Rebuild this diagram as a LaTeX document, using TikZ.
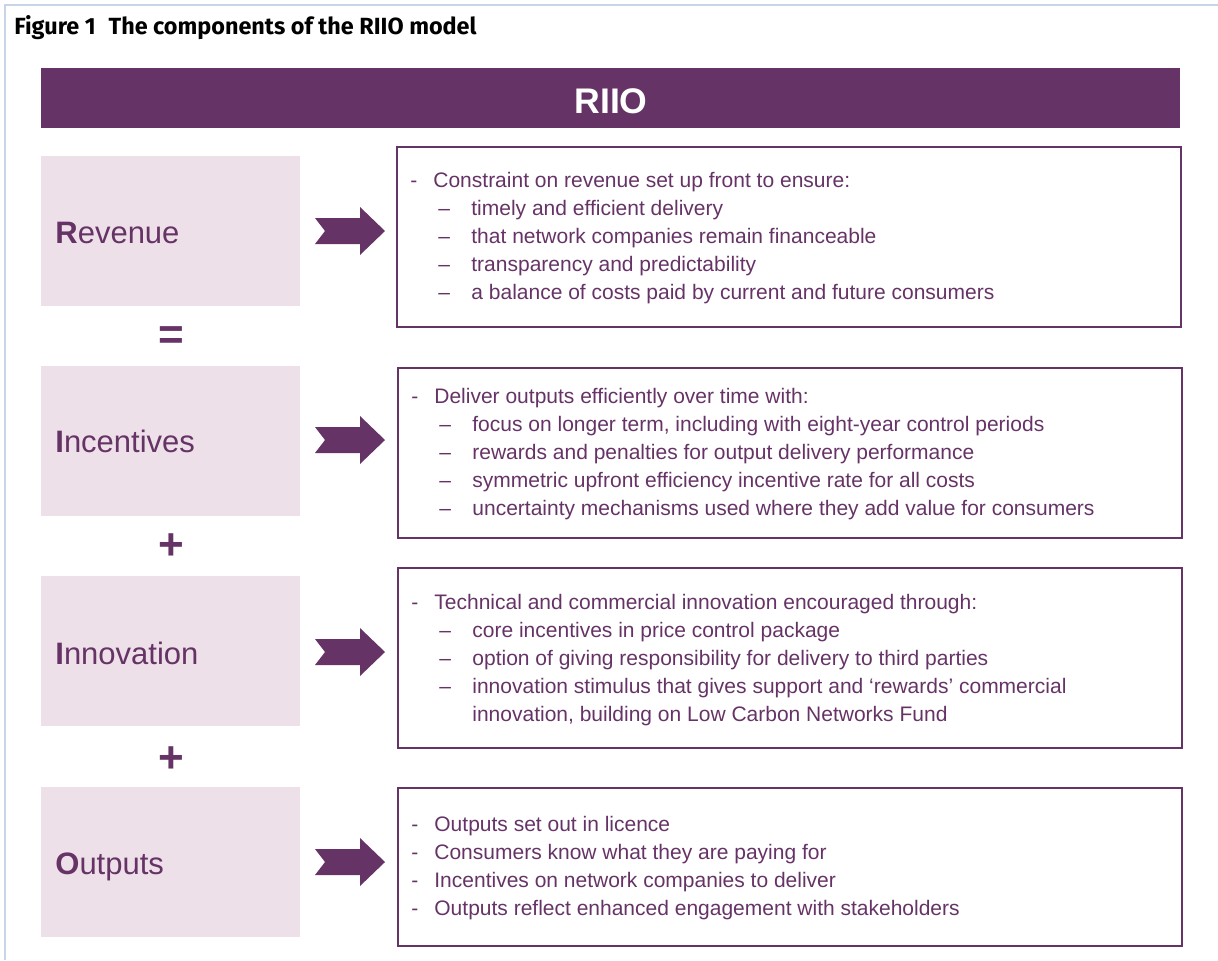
\documentclass[tikz,border=0pt]{standalone}
\usepackage{fontspec}
\setmainfont{Liberation Sans}
\newfontfamily\titlefont{Fira Sans}
\definecolor{riio}{RGB}{102,51,102}
\definecolor{riiopink}{RGB}{237,224,232}
\definecolor{framec}{RGB}{200,213,232}
\newcommand\itm{\makebox[11.5pt][l]{-}}
\newcommand\subitm{\hspace*{14pt}\makebox[16.5pt][l]{--}}
\newcommand\cont{\hspace*{30.5pt}}
\tikzset{
    LB/.style ={rectangle, fill=riiopink, minimum width=129.5pt, minimum height=75pt, inner sep=0, anchor=north west},
    RB/.style ={rectangle, draw=riio, line width=0.8pt, minimum width=392pt, inner sep=0, anchor=north west},
    LT/.style ={anchor=base west, inner sep=0, text=riio, font=\fontsize{15.5}{18}\selectfont},
    TX/.style ={anchor=north west, inner sep=0, align=left, text=riio, font=\fontsize{10.5}{14}\selectfont},
    SY/.style ={inner sep=0, text=riio, font=\fontsize{22}{24}\selectfont\bfseries},
    AR/.style ={fill=riio}}

\begin{document}
\begin{tikzpicture}[x=0.5pt,y=-0.5pt]
        \useasboundingbox (0,0) rectangle (1218,960);
        \draw[framec, line width=1pt] (5,960) -- (5,5) -- (1218,5);
        \node[anchor=base west, inner sep=0, font=\titlefont\bfseries\fontsize{11.7}{13}\selectfont] (title) at (14,34) {Figure 1\hspace{0.55em}The components of the RIIO model};
        \node[rectangle, fill=riio, minimum width=569.5pt, minimum height=30pt, inner sep=0, anchor=north west] (banner) at (41,68) {};
        \node[anchor=base, inner sep=0, text=white, font=\bfseries\fontsize{17.8}{20}\selectfont] (riio) at (611,113) {RIIO};
        % left column
        \node[LB] (L1) at (41,156) {};
        \node[LB] (L2) at (41,366) {};
        \node[LB] (L3) at (41,576) {};
        \node[LB] (L4) at (41,787) {};
        \node[LT] (n1) at (55,243) {\textbf{R}evenue};
        \node[LT] (n2) at (55,452) {\textbf{I}ncentives};
        \node[LT] (n3) at (55,664) {\textbf{I}nnovation};
        \node[LT] (n4) at (55,874) {\textbf{O}utputs};
        \node[SY] (s1) at (171,338) {=};
        \node[SY] (s2) at (171,547) {+};
        \node[SY] (s3) at (171,760) {+};
        % arrows
        \foreach \y in {231,440,652,862}
            \fill[AR] (315,\y-13) -- (360,\y-13) -- (360,\y-24) -- (385,\y) -- (360,\y+24) -- (360,\y+13) -- (315,\y+13) -- (325,\y) -- cycle;
        % right column
        \node[RB, minimum height=90pt] (R1) at (396,146) {};
        \node[RB, minimum height=85pt] (R2) at (397,367) {};
        \node[RB, minimum height=90pt] (R3) at (397,567) {};
        \node[RB, minimum height=79pt] (R4) at (397,787) {};
        \node[TX] (t1) at (410,172) {\itm Constraint on revenue set up front to ensure:\\
            \subitm timely and efficient delivery\\
            \subitm that network companies remain financeable\\
            \subitm transparency and predictability\\
            \subitm a balance of costs paid by current and future consumers};
        \node[TX] (t2) at (411,388) {\itm Deliver outputs efficiently over time with:\\
            \subitm focus on longer term, including with eight-year control periods\\
            \subitm rewards and penalties for output delivery performance\\
            \subitm symmetric upfront efficiency incentive rate for all costs\\
            \subitm uncertainty mechanisms used where they add value for consumers};
        \node[TX] (t3) at (411,594) {\itm Technical and commercial innovation encouraged through:\\
            \subitm core incentives in price control package\\
            \subitm option of giving responsibility for delivery to third parties\\
            \subitm innovation stimulus that gives support and ‘rewards’ commercial\\
            \cont innovation, building on Low Carbon Networks Fund};
        \node[TX] (t4) at (411,816) {\itm Outputs set out in licence\\
            \itm Consumers know what they are paying for\\
            \itm Incentives on network companies to deliver\\
            \itm Outputs reflect enhanced engagement with stakeholders};
    \end{tikzpicture}
\end{document}
